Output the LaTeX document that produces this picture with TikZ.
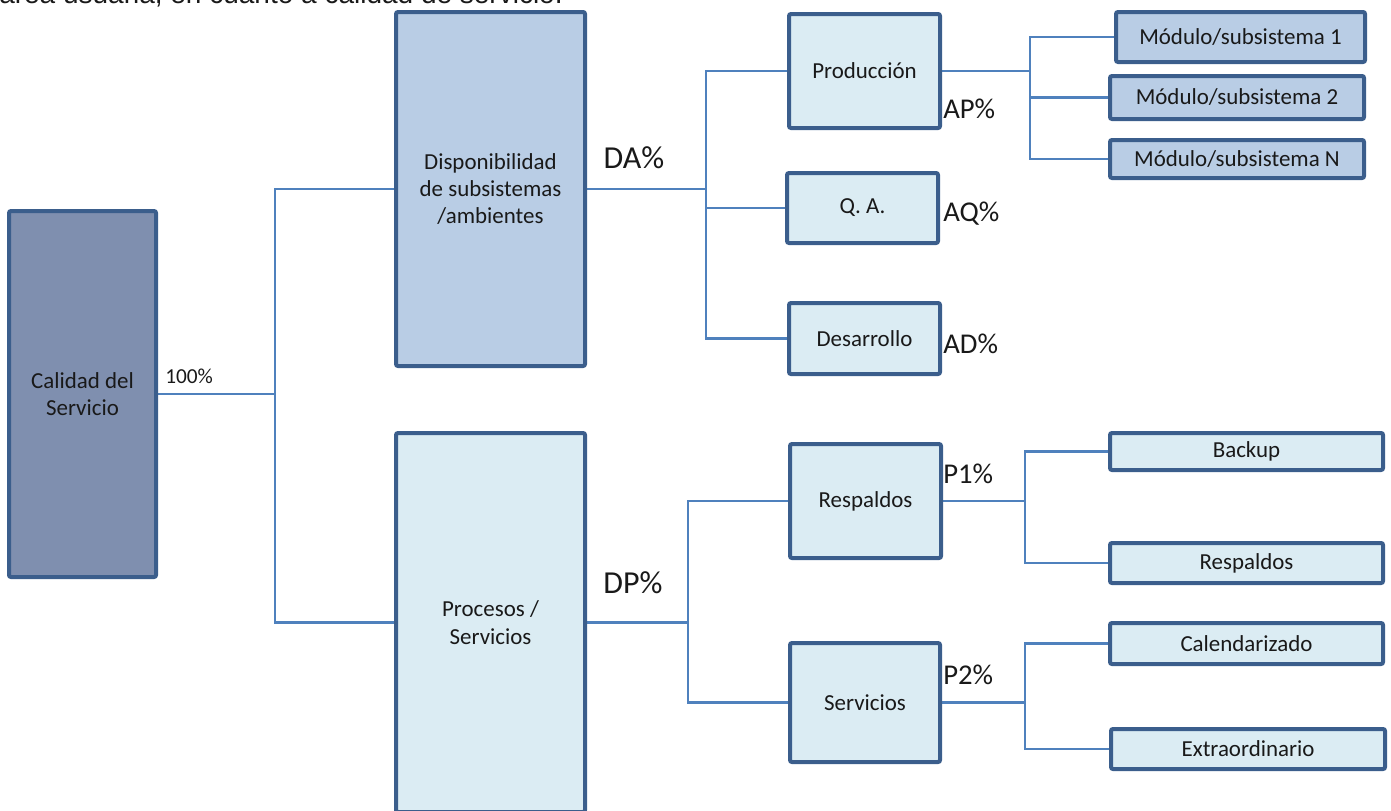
\documentclass[tikz,border=0pt]{standalone}
\usepackage{fontspec}
\setmainfont{Carlito}
\newfontfamily\arialfont{Liberation Sans}
\usetikzlibrary{backgrounds}
\definecolor{bord}{RGB}{59,94,140}
\definecolor{calfill}{RGB}{127,143,175}
\definecolor{midfill}{RGB}{185,205,229}
\definecolor{lightfill}{RGB}{219,236,243}
\definecolor{conncol}{RGB}{79,129,189}
\definecolor{txt}{RGB}{25,25,25}
\tikzset{
  box/.style={draw=bord, line width=3pt, rounded corners=1.5pt, align=center, text=txt,
    font=\fontsize{17.2}{20.5}\selectfont, inner sep=0pt},
  conn/.style={draw=conncol, line width=1.6pt},
  pctbig/.style={text=txt, font=\fontsize{24}{28}\selectfont, inner sep=0pt},
  pct/.style={text=txt, font=\fontsize{21.5}{25}\selectfont, inner sep=0pt, anchor=west},
}
\begin{document}
\begin{tikzpicture}[x=0.75pt,y=-0.75pt]
\useasboundingbox (0,0) rectangle (1391,810);
% cropped caption line at the top
\node[anchor=base west, inner sep=0pt, text=txt, font=\arialfont\fontsize{21}{25}\selectfont] (cap) at (-1,3.5) {área usuaria, en cuanto a calidad de servicio.};
% boxes
\node[box, fill=calfill, minimum width=147*0.75pt, minimum height=366*0.75pt] (cal) at (82.5,394) {Calidad del\\Servicio};
\node[box, fill=midfill, minimum width=189*0.75pt, minimum height=354*0.75pt] (disp) at (490.5,189) {Disponibilidad\\de subsistemas\\/ambientes};
\node[box, fill=lightfill, minimum width=189*0.75pt, minimum height=379*0.75pt] (proc) at (490.5,622.5) {Procesos /\\Servicios};
\node[box, fill=lightfill, minimum width=151*0.75pt, minimum height=114*0.75pt] (prod) at (864.5,71) {Producción};
\node[box, fill=lightfill, minimum width=151*0.75pt, minimum height=70*0.75pt] (qa) at (862.5,208) {Q. A.};
\node[box, fill=lightfill, minimum width=151*0.75pt, minimum height=71*0.75pt] (des) at (864.5,338.5) {Desarrollo};
\node[box, fill=lightfill, minimum width=151*0.75pt, minimum height=114*0.75pt] (resp) at (865.5,501) {Respaldos};
\node[box, fill=lightfill, minimum width=150*0.75pt, minimum height=119*0.75pt] (serv) at (865,702.5) {Servicios};
\node[box, fill=midfill, minimum width=249*0.75pt, minimum height=50*0.75pt] (m1) at (1240.5,37) {Módulo/subsistema 1};
\node[box, fill=midfill, minimum width=254*0.75pt, minimum height=43*0.75pt] (m2) at (1237,97.5) {Módulo/subsistema 2};
\node[box, fill=midfill, minimum width=254*0.75pt, minimum height=38*0.75pt] (mN) at (1237,159) {Módulo/subsistema N};
\node[box, fill=lightfill, minimum width=273*0.75pt, minimum height=37*0.75pt] (bk) at (1246.5,451.5) {Backup};
\node[box, fill=lightfill, minimum width=273*0.75pt, minimum height=40*0.75pt] (r2) at (1246.5,563) {Respaldos};
\node[box, fill=lightfill, minimum width=273*0.75pt, minimum height=41*0.75pt] (cz) at (1246.5,643.5) {Calendarizado};
\node[box, fill=lightfill, minimum width=274*0.75pt, minimum height=40*0.75pt] (ex) at (1248,749) {Extraordinario};
% labels
\node[pct, font=\fontsize{16}{19}\selectfont] (l100) at (165,376) {100\%};
\node[pctbig] (lda) at (634,158) {DA\%};
\node[pctbig] (ldp) at (633,583) {DP\%};
\node[pct] (lap) at (943,109) {AP\%};
\node[pct] (laq) at (943,214) {AQ\%};
\node[pct] (lad) at (943,344) {AD\%};
\node[pct] (lp1) at (943,474) {P1\%};
\node[pct] (lp2) at (943,675) {P2\%};
% junctions
\coordinate (j1) at (275,394);
\coordinate (j2) at (706,189);
\coordinate (j3) at (688,622.5);
\coordinate (j4) at (1030,71);
\coordinate (j5) at (1025,501);
\coordinate (j6) at (1025,702.5);
\begin{scope}[on background layer]
\draw[conn] (cal.east) -- (j1);
\draw[conn] (j1) |- (disp.west);
\draw[conn] (j1) |- (proc.west);
\draw[conn] (disp.east) -- (j2);
\draw[conn] (j2) |- (prod.west);
\draw[conn] (j2) |- (qa.west);
\draw[conn] (j2) |- (des.west);
\draw[conn] (proc.east) -- (j3);
\draw[conn] (j3) |- (resp.west);
\draw[conn] (j3) |- (serv.west);
\draw[conn] (prod.east) -- (j4);
\draw[conn] (j4) |- (m1.west);
\draw[conn] (j4) |- (m2.west);
\draw[conn] (j4) |- (mN.west);
\draw[conn] (resp.east) -- (j5);
\draw[conn] (j5) |- (bk.west);
\draw[conn] (j5) |- (r2.west);
\draw[conn] (serv.east) -- (j6);
\draw[conn] (j6) |- (cz.west);
\draw[conn] (j6) |- (ex.west);
\end{scope}
\end{tikzpicture}
\end{document}
